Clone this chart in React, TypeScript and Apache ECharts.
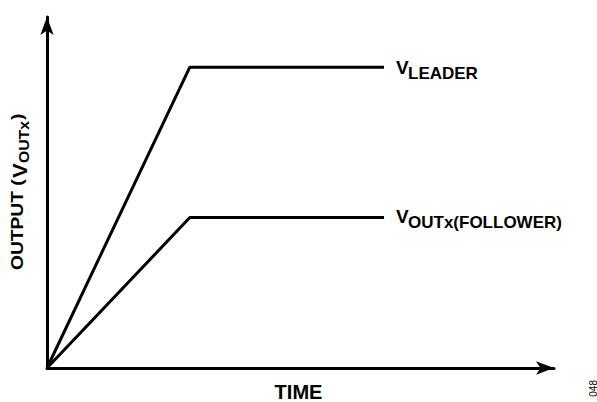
import React, { useEffect, useRef } from "react";
import * as echarts from "echarts";

const timePoints = [0, 10, 23.6];
const leaderValues = [0, 30, 30];
const followerValues = [0, 15, 15];
const xMax = 35.5;
const yMax = 35;
const xAxisTitle = "TIME";
const yTitleMain = "OUTPUT (";
const yTitleV = "V";
const yTitleSub = "OUTx";
const yTitleEnd = ")";
const leaderSub = "LEADER";
const followerSub = "OUTx(FOLLOWER)";
const figureId = "048";

const FONT = "'Liberation Sans', Arial, sans-serif";

export default function App() {
  const ref = useRef<HTMLDivElement>(null);
  useEffect(() => {
    document.body.style.margin = "0";
    if (!ref.current) return;
    const chart = echarts.init(ref.current, null, { renderer: "svg" });
    const pairs = (vals: number[]) => timePoints.map((t, i) => [t, vals[i]]);
    const txt = (text: string, x: number, y: number, size: number, extra: any = {}) => ({
      type: "text",
      x,
      y,
      ...extra,
      style: {
        text,
        fill: "#000",
        font: `bold ${size}px ${FONT}`,
        textAlign: "left",
        textVerticalAlign: "middle",
        verticalAlign: "middle",
      },
    });
    chart.setOption({
      animation: false,
      backgroundColor: "#fff",
      grid: { left: 47, top: 17, right: 43, bottom: 34, containLabel: false },
      xAxis: {
        type: "value",
        min: 0,
        max: xMax,
        axisLine: {
          show: true,
          symbol: ["none", "arrow"],
          symbolSize: [10, 18],
          lineStyle: { color: "#000", width: 3 },
        },
        axisTick: { show: false },
        axisLabel: { show: false },
        splitLine: { show: false },
      },
      yAxis: {
        type: "value",
        min: 0,
        max: yMax,
        axisLine: {
          show: true,
          symbol: ["none", "arrow"],
          symbolSize: [10, 18],
          lineStyle: { color: "#000", width: 3 },
        },
        axisTick: { show: false },
        axisLabel: { show: false },
        splitLine: { show: false },
      },
      series: [
        {
          type: "line",
          data: pairs(leaderValues),
          symbol: "none",
          lineStyle: { color: "#000", width: 3 },
        },
        {
          type: "line",
          data: pairs(followerValues),
          symbol: "none",
          lineStyle: { color: "#000", width: 3 },
        },
      ],
      graphic: [
        txt("V", 396, 67.5, 19),
        txt(leaderSub, 408, 73, 17),
        txt("V", 396, 216.5, 19),
        txt(followerSub, 408, 222, 17),
        {
          type: "text",
          x: 298.5,
          y: 392,
          style: {
            text: xAxisTitle,
            fill: "#000",
            font: `bold 20px ${FONT}`,
            textAlign: "center",
            textVerticalAlign: "middle",
            verticalAlign: "middle",
          },
        },
        {
          type: "group",
          x: 18,
          y: 270,
          rotation: Math.PI / 2,
          children: [
            txt(yTitleMain, 0, 0, 16, { scaleX: 1.2 }),
            txt(yTitleV, 92, 2, 20, { scaleX: 1.1 }),
            txt(yTitleSub, 107, 5.5, 15, { scaleX: 1.05 }),
            txt(yTitleEnd, 150, 0, 16, { scaleX: 1.2 }),
          ],
        },
        {
          type: "text",
          x: 593,
          y: 380,
          rotation: Math.PI / 2,
          style: {
            text: figureId,
            fill: "#000",
            font: `10px ${FONT}`,
            textAlign: "right",
            textVerticalAlign: "middle",
            verticalAlign: "middle",
          },
        },
      ],
    });
    return () => chart.dispose();
  }, []);
  return <div ref={ref} style={{ width: 597, height: 402 }} />;
}
